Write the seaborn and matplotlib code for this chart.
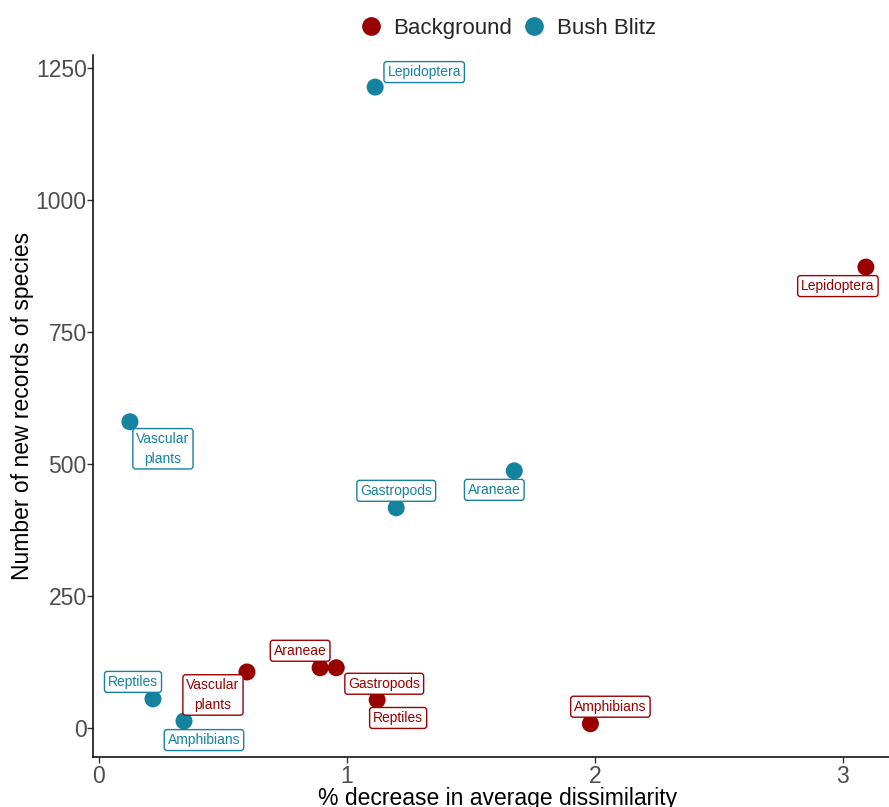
import pandas as pd
import seaborn as sns
import matplotlib.pyplot as plt

# data
groups = ["Bush Blitz"] * 6 + ["Background"] * 6
taxa = ["Lepidoptera", "Vascular\nplants", "Araneae", "Gastropods", "Reptiles", "Amphibians"] * 2
pct_decrease = [1.114, 0.125, 1.675, 1.199, 0.218, 0.343,
                3.093, 0.597, 0.892, 0.957, 1.122, 1.982]
new_records = [1214, 580, 487, 417, 55, 13,
               873, 106, 114, 114, 53, 8]

# label offsets (pixels, repel-like placement)
label_offsets = [(49, -15), (33, 27), (-20, 19), (0, -17), (-20, -17), (20, 19),
                 (-28, 19), (-34, 23), (-20, -17), (48, 16), (21, 18), (20, -17)]

palette = {"Background": "#990000", "Bush Blitz": "#15829F"}

df = pd.DataFrame({"Group": groups, "Taxon": taxa,
                   "x": pct_decrease, "y": new_records})

sns.set_style("ticks")
plt.rcParams["font.family"] = ["Liberation Sans", "DejaVu Sans"]

fig = plt.figure(figsize=(8.89, 8.07), dpi=100)
ax = fig.add_axes([0.1046, 0.062, 0.9104, 0.870])

sns.scatterplot(data=df, x="x", y="y", hue="Group", palette=palette,
                hue_order=["Background", "Bush Blitz"],
                s=150, linewidth=0, ax=ax, legend=True, zorder=3)

for i, row in df.iterrows():
    dx, dy = label_offsets[i]
    c = palette[row["Group"]]
    ax.annotate(row["Taxon"], (row["x"], row["y"]),
                xytext=(dx * 0.72, -dy * 0.72), textcoords="offset points",
                ha="center", va="center", fontsize=10, color=c,
                linespacing=1.5,
                bbox=dict(boxstyle="round,pad=0.25,rounding_size=0.2",
                          fc="white", ec=c, lw=1.0), zorder=4)

ax.set_xlim(-0.024, 3.24)
ax.set_ylim(-55, 1275)
ax.set_xticks([0, 1, 2, 3])
ax.set_yticks([0, 250, 500, 750, 1000, 1250])
ax.set_xlabel("% decrease in average dissimilarity", fontsize=16.5, color="black",
              labelpad=-1)
ax.set_ylabel("Number of new records of species", fontsize=16.5, color="black",
              labelpad=1)
ax.tick_params(labelsize=16.5, labelcolor="#4D4D4D", color="#333333", length=4, width=1)
ax.tick_params(axis="x", pad=2)
ax.tick_params(axis="y", pad=0.5)
sns.despine(ax=ax)
for sp in ["left", "bottom"]:
    ax.spines[sp].set_linewidth(1.1)
    ax.spines[sp].set_color("black")

handles, labels = ax.get_legend_handles_labels()
ax.get_legend().remove()
fig.legend(handles, labels, loc="upper center", bbox_to_anchor=(0.565, 1.003),
           ncol=2, frameon=False, fontsize=16, handletextpad=0.0,
           columnspacing=0.0, markerscale=1.1)

fig.savefig("out.png", dpi=100)
